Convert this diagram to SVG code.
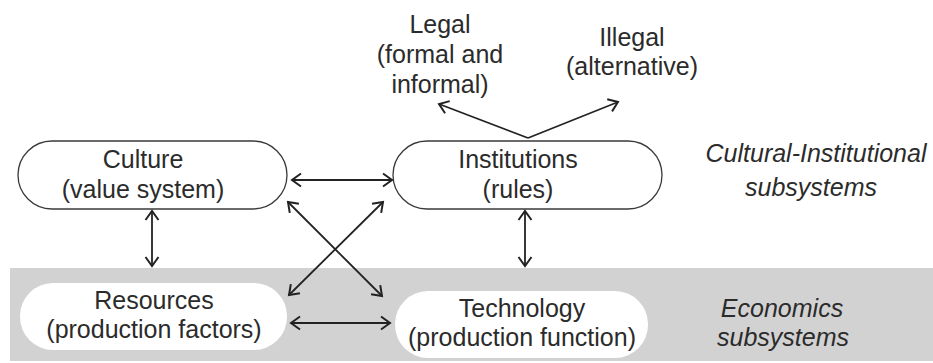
<svg xmlns="http://www.w3.org/2000/svg" width="933" height="363" viewBox="0 0 933 363">
<style>
.t{font-family:"Liberation Sans",Arial,sans-serif;font-size:25px;fill:#2b2b2b;text-anchor:middle}
.i{font-style:italic}
.box{fill:#fff;stroke:#3a3a3a;stroke-width:1.3}
.wbox{fill:#fff;stroke:none}
.c{stroke:#222;stroke-width:1.8;fill:none;marker-end:url(#ah);marker-start:url(#ah)}
.s{stroke:#222;stroke-width:1.8;fill:none;marker-end:url(#ah)}
</style>
<defs>
<marker id="ah" markerUnits="userSpaceOnUse" markerWidth="20" markerHeight="20" refX="0" refY="0" viewBox="-12 -10 14 20" orient="auto-start-reverse" overflow="visible">
<path d="M -9 -6.5 L 0 0 L -9 6.5" fill="none" stroke="#222" stroke-width="2"/>
</marker>
</defs>
<rect x="0" y="0" width="933" height="363" fill="#fff"/>
<rect id="band" x="10" y="268" width="923" height="93" fill="#d3d2d3"/>
<g id="culture">
<rect class="box" x="18" y="141" width="269" height="68" rx="34"/>
<text class="t" x="143" y="168">Culture</text>
<text class="t" x="143" y="198">(value system)</text>
</g>
<g id="institutions">
<rect class="box" x="393" y="141" width="269" height="68" rx="34"/>
<text class="t" x="518" y="168">Institutions</text>
<text class="t" x="518" y="198">(rules)</text>
</g>
<g id="resources">
<rect class="wbox" x="20" y="283" width="267" height="67" rx="33"/>
<text class="t" x="154" y="309">Resources</text>
<text class="t" x="154" y="338">(production factors)</text>
</g>
<g id="technology">
<rect class="wbox" x="395" y="291" width="253" height="67" rx="33"/>
<text class="t" x="522" y="317">Technology</text>
<text class="t" x="522" y="346">(production function)</text>
</g>
<g id="legal">
<text class="t" x="440" y="33">Legal</text>
<text class="t" x="440" y="63">(formal and</text>
<text class="t" x="440" y="93">informal)</text>
</g>
<g id="illegal">
<text class="t" x="632" y="46">Illegal</text>
<text class="t" x="632" y="75">(alternative)</text>
</g>
<g id="label-ci">
<text class="t i" x="816" y="162">Cultural-Institutional</text>
<text class="t i" x="811" y="196">subsystems</text>
</g>
<g id="label-eco">
<text class="t i" x="782" y="317">Economics</text>
<text class="t i" x="783" y="346">subsystems</text>
</g>
<g id="connectors">
<line class="c" x1="292" y1="180" x2="392" y2="180"/>
<line class="c" x1="288" y1="202" x2="382" y2="296"/>
<line class="c" x1="383" y1="202" x2="289" y2="295"/>
<line class="c" x1="152" y1="211" x2="152" y2="266"/>
<line class="c" x1="525" y1="211" x2="525" y2="266"/>
<line class="c" x1="291" y1="323" x2="390" y2="323"/>
<line class="s" x1="528" y1="138" x2="439" y2="104"/>
<line class="s" x1="528" y1="138" x2="618" y2="102"/>
</g>
</svg>
